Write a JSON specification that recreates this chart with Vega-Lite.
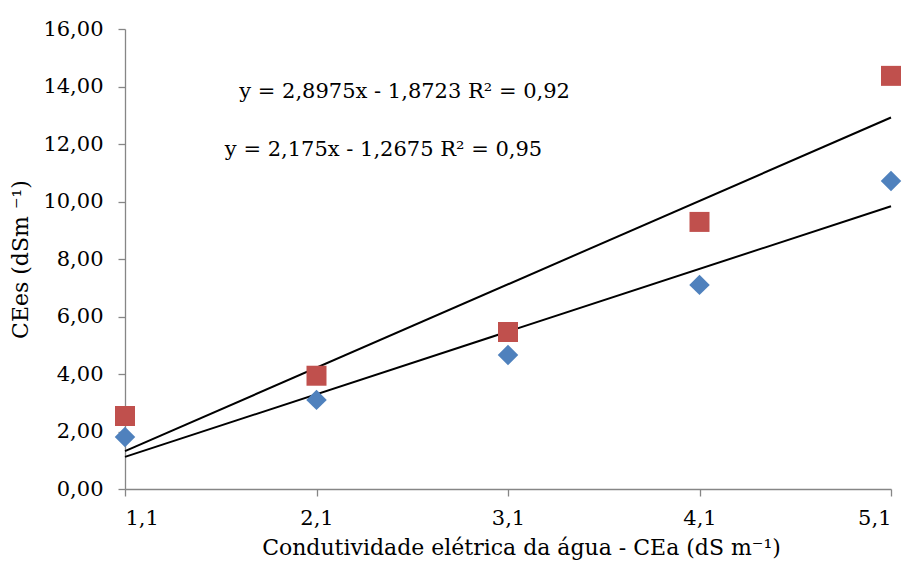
{
  "$schema": "https://vega.github.io/schema/vega-lite/v6.json",
  "width": 766,
  "height": 460,
  "autosize": {"type": "none"},
  "padding": {"left": 125, "top": 29, "right": 19, "bottom": 84},
  "background": "white",
  "config": {
    "locale": {"number": {"decimal": ",", "thousands": ".", "grouping": [3], "currency": ["", ""]}},
    "view": {"stroke": null},
    "font": "DejaVu Serif",
    "axis": {"grid": false, "domainColor": "#868686", "tickColor": "#868686", "labelColor": "#000000", "titleColor": "#000000", "labelFont": "DejaVu Serif", "titleFont": "DejaVu Serif", "labelFontSize": 21, "titleFontSize": 22, "titleFontWeight": "normal", "tickSize": 7, "domainWidth": 1.3, "tickWidth": 1.3}
  },
  "datasets": {
    "pts": [
      {"cea": 1.1, "ce": 1.81, "serie": "A"},
      {"cea": 2.1, "ce": 3.1, "serie": "A"},
      {"cea": 3.1, "ce": 4.66, "serie": "A"},
      {"cea": 4.1, "ce": 7.1, "serie": "A"},
      {"cea": 5.1, "ce": 10.71, "serie": "A"},
      {"cea": 1.1, "ce": 2.54, "serie": "B"},
      {"cea": 2.1, "ce": 3.94, "serie": "B"},
      {"cea": 3.1, "ce": 5.46, "serie": "B"},
      {"cea": 4.1, "ce": 9.29, "serie": "B"},
      {"cea": 5.1, "ce": 14.37, "serie": "B"}
    ],
    "labels": [
      {"cea": 2.56, "ce": 13.81, "txt": "y = 2,8975x - 1,8723 R² = 0,92"},
      {"cea": 2.45, "ce": 11.79, "txt": "y = 2,175x - 1,2675 R² = 0,95"}
    ]
  },
  "encoding": {
    "x": {
      "field": "cea", "type": "quantitative",
      "scale": {"domain": [1.1, 5.1], "nice": false, "zero": false},
      "axis": {"values": [1.1, 2.1, 3.1, 4.1, 5.1], "format": ".1f", "labelPadding": 11, "title": "Condutividade elétrica da água - CEa (dS m⁻¹)", "titlePadding": 9, "titleX": 396}
    },
    "y": {
      "field": "ce", "type": "quantitative",
      "scale": {"domain": [0, 16], "nice": false},
      "axis": {"values": [0, 2, 4, 6, 8, 10, 12, 14, 16], "format": ".2f", "labelPadding": 15, "title": "CEes (dSm ⁻¹)", "titlePadding": 10}
    }
  },
  "layer": [
    {
      "data": {"name": "pts"},
      "transform": [{"regression": "ce", "on": "cea", "groupby": ["serie"], "method": "linear", "extent": [1.1, 5.1]}],
      "mark": {"type": "line", "color": "#000000", "strokeWidth": 2},
      "encoding": {
        "detail": {"field": "serie"}
      }
    },
    {
      "data": {"name": "pts"},
      "transform": [{"filter": "datum.serie === 'A'"}],
      "mark": {"type": "point", "shape": "diamond", "filled": true, "size": 420, "color": "#4F81BD", "opacity": 1}
    },
    {
      "data": {"name": "pts"},
      "transform": [{"filter": "datum.serie === 'B'"}],
      "mark": {"type": "point", "shape": "square", "filled": true, "size": 400, "color": "#C0504D", "opacity": 1}
    },
    {
      "data": {"name": "labels"},
      "mark": {"type": "text", "font": "DejaVu Serif", "fontSize": 21, "color": "#000000", "align": "center", "baseline": "middle"},
      "encoding": {
        "text": {"field": "txt"}
      }
    }
  ]
}
